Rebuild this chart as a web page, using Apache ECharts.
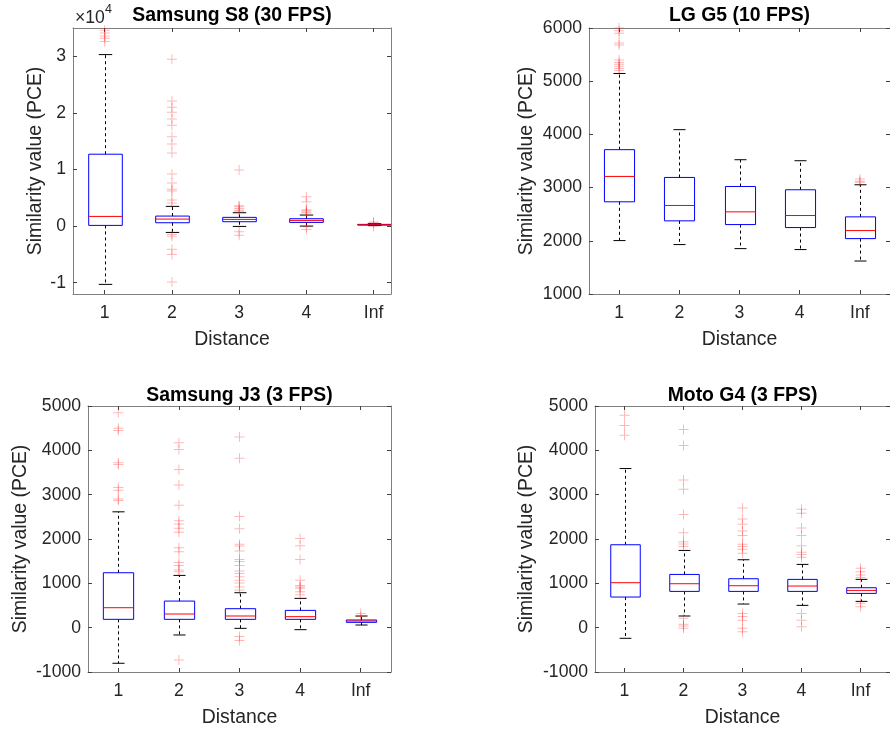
<!DOCTYPE html>
<html>
<head>
<meta charset="utf-8">
<title>Similarity value (PCE) by distance</title>
<script src="https://cdn.jsdelivr.net/npm/echarts@6/dist/echarts.min.js"></script>
<style>
html, body { margin: 0; padding: 0; background: #fff; }
#chart { width: 890px; height: 730px; }
</style>
</head>
<body>
<div id="chart"></div>
<script>
// categories on the x axis (positions 1..5)
const categories = ['1', '2', '3', '4', 'Inf'];
const positions = [1, 2, 3, 4, 5];

// Samsung S8 (30 FPS)
const s8Low    = [-10300, -1120, -60, 0, 100];
const s8Q1     = [120, 590, 770, 650, 180];
const s8Median = [1710, 1240, 1180, 1000, 240];
const s8Q3     = [12700, 1770, 1540, 1300, 300];
const s8High   = [30300, 3480, 2360, 1950, 420];
const s8Outliers = [
  [34600, 34100, 33600, 33200, 32600],
  [29500, 22100, 21000, 20100, 18900, 17800, 15800, 14500, 12900, 9200, 7600, 6500, 6200, 4600, 4100, -1500, -1800, -4100, -5000, -9900],
  [9900, 3600, 3400, 3100, 2800, 2600, -1000, -1600],
  [5200, 4300, 2900, 2700, 2500, 2300, -100, -600],
  [550, 700, -50]
];
const s8Ticks = [-10000, 0, 10000, 20000, 30000];

// LG G5 (10 FPS)
const g5Low    = [2004, 1929, 1853, 1835, 1620];
const g5Q1     = [2733, 2375, 2305, 2249, 2041];
const g5Median = [3210, 2664, 2544, 2475, 2192];
const g5Q3     = [3713, 3191, 3021, 2959, 2450];
const g5High   = [5145, 4089, 3524, 3505, 3053];
const g5Outliers = [
  [6000, 5950, 5900, 5720, 5680, 5400, 5350, 5320, 5280, 5240, 5200],
  [],
  [],
  [],
  [3160, 3120, 3100]
];

// Samsung J3 (3 FPS)
const j3Low    = [-803, -165, -15, -45, 60];
const j3Q1     = [188, 188, 188, 188, 120];
const j3Median = [450, 308, 263, 248, 150];
const j3Q3     = [1239, 600, 428, 390, 173];
const j3High   = [2613, 1179, 788, 661, 263];
const j3Outliers = [
  [4850, 4500, 4450, 3720, 3680, 3160, 3100, 2900, 2870],
  [4170, 4020, 3570, 3220, 2760, 2410, 2340, 2240, 2150, 1800, 1710, 1470, 1400, 1300, 1260, -730],
  [4300, 3820, 2510, 2230, 1880, 1840, 1730, 1540, 1490, 1400, 1280, 1220, 1150, 1070, 1010, 920, 850, -200, -290],
  [2010, 1850, 1540, 1070, 950, 920, 890, 810, 740],
  [320, 250]
];

// Moto G4 (3 FPS)
const g4Low    = [-240, 263, 533, 503, 593];
const g4Q1     = [691, 818, 818, 818, 773];
const g4Median = [1014, 991, 946, 939, 841];
const g4Q3     = [1870, 1201, 1104, 1089, 901];
const g4High   = [3589, 1742, 1532, 1427, 1089];
const g4Outliers = [
  [4790, 4560, 4340],
  [4470, 4110, 3330, 3120, 2550, 2140, 1940, 1890, 1830, 210, 75, 40, -15],
  [2700, 2450, 2330, 2180, 2080, 1880, 1830, 1770, 1680, 320, 250, 170, -15, -90],
  [2670, 2580, 2250, 2080, 1850, 1700, 1650, 1590, 320, 170, 20],
  [1340, 1260, 1190, 1130, 550, 470]
];

const FONT = 'Liberation Sans, Arial, Helvetica, sans-serif';
const TICK_FS = 17.6;
const LABEL_FS = 19.4;
const TEXT_COLOR = '#262626';
const BOX_W = 0.5;
const CAP_W = 0.2;
const PLUS = 'path://M0,4.5L10,4.5L10,5.5L0,5.5Z M4.5,0L5.5,0L5.5,10L4.5,10Z';

const panels = [
  { title: 'Samsung S8 (30 FPS)', low: s8Low, q1: s8Q1, med: s8Median, q3: s8Q3, high: s8High, out: s8Outliers,
    grid: { left: 73, top: 28, width: 318, height: 266 }, xMin: 0.528, xMax: 5.26,
    yMin: -12000, yMax: 35000, yTicks: s8Ticks, yScale: 1e4, nameGap: 28, titleGap: 3 },
  { title: 'LG G5 (10 FPS)', low: g5Low, q1: g5Q1, med: g5Median, q3: g5Q3, high: g5High, out: g5Outliers,
    grid: { left: 589, top: 28, width: 309, height: 266 }, xMin: 0.5, xMax: 5.5,
    yMin: 1000, yMax: 6000, yInterval: 1000, nameGap: 53, titleGap: 3 },
  { title: 'Samsung J3 (3 FPS)', low: j3Low, q1: j3Q1, med: j3Median, q3: j3Q3, high: j3High, out: j3Outliers,
    grid: { left: 88, top: 406, width: 303, height: 266 }, xMin: 0.5, xMax: 5.5,
    yMin: -1000, yMax: 5000, yInterval: 1000, nameGap: 58, titleGap: 1 },
  { title: 'Moto G4 (3 FPS)', low: g4Low, q1: g4Q1, med: g4Median, q3: g4Q3, high: g4High, out: g4Outliers,
    grid: { left: 595, top: 406, width: 303, height: 266 }, xMin: 0.5, xMax: 5.5,
    yMin: -1000, yMax: 5000, yInterval: 1000, nameGap: 59, titleGap: 1 }
];

function renderBox(params, api) {
  const x = api.value(0);
  const half = api.size([BOX_W, 0])[0] / 2;
  const cap = api.size([CAP_W, 0])[0] / 2;
  const pLow = api.coord([x, api.value(1)]);
  const pQ1 = api.coord([x, api.value(2)]);
  const pMed = api.coord([x, api.value(3)]);
  const pQ3 = api.coord([x, api.value(4)]);
  const pHigh = api.coord([x, api.value(5)]);
  const cx = Math.round(pMed[0]) + 0.5;
  const dash = { stroke: '#000', lineWidth: 1, lineDash: [3, 3] };
  const solid = { stroke: '#000', lineWidth: 1 };
  return {
    type: 'group',
    children: [
      { type: 'line', shape: { x1: cx, y1: pQ3[1], x2: cx, y2: pHigh[1] }, style: dash },
      { type: 'line', shape: { x1: cx, y1: pQ1[1], x2: cx, y2: pLow[1] }, style: dash },
      { type: 'line', shape: { x1: cx - cap, y1: pHigh[1], x2: cx + cap, y2: pHigh[1] }, style: solid },
      { type: 'line', shape: { x1: cx - cap, y1: pLow[1], x2: cx + cap, y2: pLow[1] }, style: solid },
      { type: 'rect', shape: { x: cx - half, y: pQ3[1], width: half * 2, height: pQ1[1] - pQ3[1] },
        style: { fill: 'none', stroke: '#0000ff', lineWidth: 1 } },
      { type: 'line', shape: { x1: cx - half, y1: pMed[1], x2: cx + half, y2: pMed[1] },
        style: { stroke: '#ff0000', lineWidth: 1 } }
    ]
  };
}

const grids = [], xAxes = [], yAxes = [], series = [];
const lineStyle = { color: '#808080', width: 1 };
const tickStyle = { color: '#404040', width: 1 };

panels.forEach(function (p, i) {
  grids.push(Object.assign({ containLabel: false }, p.grid));

  // bottom x axis with labels and "Distance"
  xAxes.push({
    gridIndex: i, type: 'value', position: 'bottom', min: p.xMin, max: p.xMax,
    name: 'Distance', nameLocation: 'middle', nameGap: 36,
    nameTextStyle: { fontFamily: FONT, fontSize: LABEL_FS, color: TEXT_COLOR },
    axisLine: { show: true, onZero: false, lineStyle: lineStyle },
    axisTick: { show: true, inside: true, length: 4, lineStyle: tickStyle, customValues: positions },
    axisLabel: { show: true, margin: 10, fontFamily: FONT, fontSize: TICK_FS, color: TEXT_COLOR,
      customValues: positions, formatter: function (v) { return categories[Math.round(v) - 1]; } },
    splitLine: { show: false }
  });
  // top x axis: box edge + ticks, title as its name
  xAxes.push({
    gridIndex: i, type: 'value', position: 'top', min: p.xMin, max: p.xMax,
    name: p.title, nameLocation: 'middle', nameGap: p.titleGap,
    nameTextStyle: { fontFamily: FONT, fontSize: LABEL_FS, fontWeight: 'bold', color: '#000' },
    axisLine: { show: true, onZero: false, lineStyle: lineStyle },
    axisTick: { show: true, inside: true, length: 4, lineStyle: tickStyle, customValues: positions },
    axisLabel: { show: false, customValues: positions },
    splitLine: { show: false }
  });

  const yLeft = {
    gridIndex: i, type: 'value', position: 'left', min: p.yMin, max: p.yMax,
    name: 'Similarity value (PCE)', nameLocation: 'middle', nameGap: p.nameGap,
    nameTextStyle: { fontFamily: FONT, fontSize: LABEL_FS, color: TEXT_COLOR },
    axisLine: { show: true, onZero: false, lineStyle: lineStyle },
    axisTick: { show: true, inside: true, length: 4, lineStyle: tickStyle },
    axisLabel: { show: true, margin: 7, fontFamily: FONT, fontSize: TICK_FS, color: TEXT_COLOR,
      formatter: function (v) { return String(v); } },
    splitLine: { show: false }
  };
  const yRight = {
    gridIndex: i, type: 'value', position: 'right', min: p.yMin, max: p.yMax,
    axisLine: { show: true, onZero: false, lineStyle: lineStyle },
    axisTick: { show: true, inside: true, length: 4, lineStyle: tickStyle },
    axisLabel: { show: false },
    splitLine: { show: false }
  };
  if (p.yTicks) {
    const scale = p.yScale;
    yLeft.axisTick.customValues = p.yTicks;
    yLeft.axisLabel.customValues = p.yTicks;
    yLeft.axisLabel.formatter = function (v) { return String(Math.round(v / scale)); };
    yRight.axisTick.customValues = p.yTicks;
    yRight.axisLabel.customValues = p.yTicks;
  } else {
    yLeft.interval = p.yInterval;
    yRight.interval = p.yInterval;
  }
  yAxes.push(yLeft, yRight);

  const boxData = positions.map(function (x, k) {
    return [x, p.low[k], p.q1[k], p.med[k], p.q3[k], p.high[k]];
  });
  const outData = [];
  p.out.forEach(function (vals, k) {
    vals.forEach(function (v) { outData.push([positions[k], v]); });
  });

  series.push({
    type: 'scatter', xAxisIndex: 2 * i, yAxisIndex: 2 * i, data: outData,
    symbol: PLUS, symbolSize: 10, silent: true, clip: true,
    itemStyle: { color: 'rgba(255,0,0,0.35)' }
  });
  series.push({
    type: 'custom', xAxisIndex: 2 * i, yAxisIndex: 2 * i, data: boxData,
    renderItem: renderBox, silent: true, clip: true,
    encode: { x: 0, y: [1, 2, 3, 4, 5] }
  });
});

const chart = echarts.init(document.getElementById('chart'), null, { renderer: 'canvas' });
chart.setOption({
  backgroundColor: '#fff',
  animation: false,
  textStyle: { fontFamily: FONT },
  grid: grids,
  xAxis: xAxes,
  yAxis: yAxes,
  series: series,
  graphic: [
    { type: 'text', left: 75, top: 9, silent: true,
      style: { text: '×10', font: TICK_FS + 'px ' + FONT, fill: TEXT_COLOR } },
    { type: 'text', left: 105, top: 3, silent: true,
      style: { text: '4', font: '12.5px ' + FONT, fill: TEXT_COLOR } }
  ]
});
</script>
</body>
</html>
